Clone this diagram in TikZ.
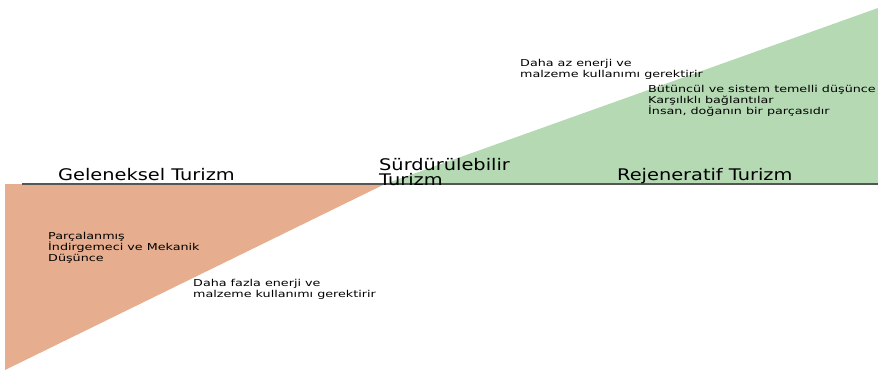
\documentclass[tikz,border=0pt]{standalone}
\usepackage{fontspec}
\setmainfont{DejaVu Sans}
\newfontfamily\bigwide[FakeStretch=1.21]{DejaVu Sans}
\newfontfamily\smallwide[FakeStretch=1.34]{DejaVu Sans}
\definecolor{orangefill}{RGB}{230,173,142}
\definecolor{greenfill}{RGB}{181,218,179}
\definecolor{axisgray}{RGB}{85,85,85}
\begin{document}
\begin{tikzpicture}[x=1pt,y=-1pt,
  big/.style={font=\bigwide\fontsize{16}{15}\selectfont, inner sep=0pt, align=left},
  small/.style={font=\smallwide\fontsize{9.5}{10.7}\selectfont, inner sep=0pt, align=left}]
\useasboundingbox (0,0) rectangle (878,372);
\fill[orangefill] (5,184) -- (385,184) -- (5,370) -- cycle;
\fill[greenfill] (385,184) -- (878,8) -- (878,184) -- cycle;
\coordinate (la) at (22,184);
\coordinate (lb) at (878,184);
\draw[axisgray, line width=1.6pt] (la) -- (lb);
\node[big, anchor=base west] (gel) at (58,180) {Geleneksel Turizm};
\node[big, anchor=base west] (sur) at (379,185) {Sürdürülebilir\\Turizm};
\node[big, anchor=base west] (rej) at (617,180) {Rejeneratif Turizm};
\node[small, anchor=base west] (par) at (48,261) {Parçalanmış\\İndirgemeci ve Mekanik\\Düşünce};
\node[small, anchor=base west] (fazla) at (193,297) {Daha fazla enerji ve\\malzeme kullanımı gerektirir};
\node[small, anchor=base west] (az) at (520,77) {Daha az enerji ve\\malzeme kullanımı gerektirir};
\node[small, anchor=base west] (but) at (648,114) {Bütüncül ve sistem temelli düşünce\\Karşılıklı bağlantılar\\İnsan, doğanın bir parçasıdır};
\end{tikzpicture}
\end{document}
